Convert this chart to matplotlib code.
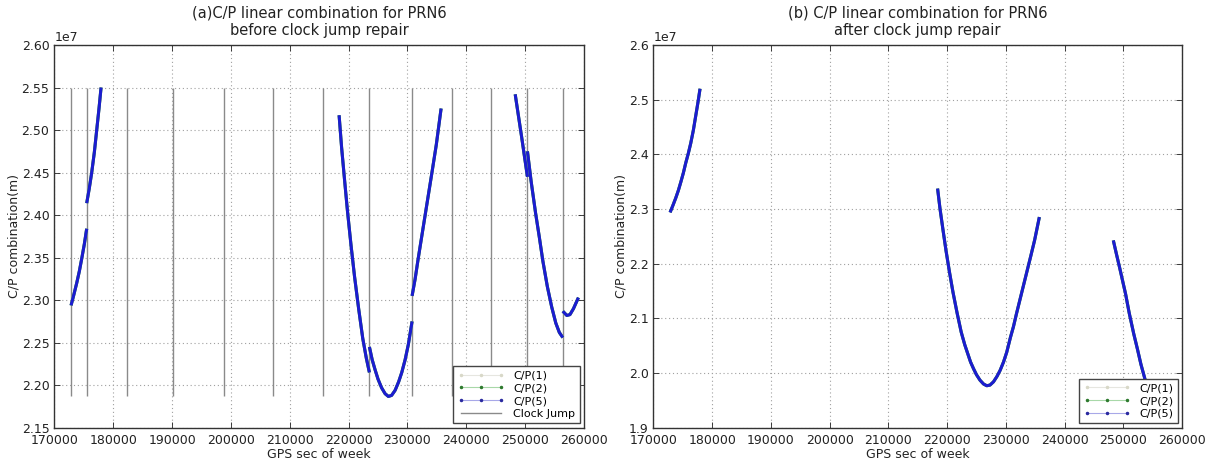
import matplotlib
matplotlib.use("Agg")
import matplotlib.pyplot as plt
from matplotlib.lines import Line2D
import numpy as np

plt.rcParams['font.family'] = ['DejaVu Sans']

# ---------------- data (GPS sec of week, C/P combination in metres) ----------------
# (a) before clock jump repair: pieces of the arcs, split at clock jumps
before_x = [
    [172840, 173300, 173800, 174250, 174660, 175100, 175500],
    [175500, 175950, 176350, 176800, 177200, 177600, 177940],
    [218380, 218800, 219300, 219800, 220400, 221000, 221700, 222400, 223000, 223530],
    [223530, 224000, 224500, 225000, 225600, 226200, 226750, 227300, 227900, 228500,
     229030, 229600, 230150, 230780],
    [230780, 231300, 231800, 232400, 233000, 233600, 234200, 234900, 235710],
    [248300, 248800, 249390, 250000, 250380],
    [250380, 251000, 251770, 252400, 253000, 253760, 254500, 255200, 255800, 256390],
    [256390, 257070, 257600, 258200, 259040],
]
before_y = [
    [2.2938e7, 2.3060e7, 2.3200e7, 2.3340e7, 2.3490e7, 2.3660e7, 2.3840e7],
    [2.4140e7, 2.4320e7, 2.4500e7, 2.4740e7, 2.5000e7, 2.5260e7, 2.5500e7],
    [2.5174e7, 2.4800e7, 2.4420e7, 2.4050e7, 2.3650e7, 2.3280e7, 2.2900e7, 2.2550e7,
     2.2320e7, 2.2150e7],
    [2.2450e7, 2.2300e7, 2.2180e7, 2.2070e7, 2.1970e7, 2.1900e7, 2.1868e7, 2.1880e7,
     2.1940e7, 2.2040e7, 2.2150e7, 2.2300e7, 2.2480e7, 2.2750e7],
    [2.3050e7, 2.3250e7, 2.3480e7, 2.3740e7, 2.4000e7, 2.4260e7, 2.4520e7, 2.4830e7, 2.5253e7],
    [2.5420e7, 2.5190e7, 2.4920e7, 2.4630e7, 2.4450e7],
    [2.4750e7, 2.4400e7, 2.4020e7, 2.3740e7, 2.3460e7, 2.3160e7, 2.2920e7, 2.2730e7,
     2.2620e7, 2.2560e7],
    [2.2870e7, 2.2820e7, 2.2830e7, 2.2900e7, 2.3030e7],
]

# epochs of detected clock jumps
clock_jumps = [172800, 175500, 182390, 190200, 198880, 207160, 215700,
               223530, 230780, 237620, 244140, 250380, 256390]

# (b) after clock jump repair: continuous arcs
after_x = [
    [172840, 173300, 173800, 174250, 174660, 175100, 175500, 175950, 176350, 176800,
     177200, 177600, 177940],
    [218380, 218800, 219300, 219800, 220400, 221000, 221700, 222400, 223000, 223530,
     224000, 224500, 225000, 225600, 226200, 226750, 227300, 227900, 228500, 229030,
     229600, 230150, 230780, 231300, 231800, 232400, 233000, 233600, 234200, 234900, 235710],
    [248300, 248800, 249390, 250000, 250380, 251000, 251770, 252400, 253000, 253760,
     254500, 255200, 255800, 256390, 257070, 257600, 258200, 259040],
]
after_y = [
    [2.2938e7, 2.3060e7, 2.3200e7, 2.3340e7, 2.3490e7, 2.3660e7, 2.3840e7, 2.4020e7,
     2.4200e7, 2.4440e7, 2.4700e7, 2.4960e7, 2.5200e7],
    [2.3374e7, 2.3000e7, 2.2620e7, 2.2250e7, 2.1850e7, 2.1480e7, 2.1100e7, 2.0750e7,
     2.0520e7, 2.0350e7, 2.0200e7, 2.0080e7, 1.9970e7, 1.9870e7, 1.9800e7, 1.9768e7,
     1.9780e7, 1.9840e7, 1.9940e7, 2.0050e7, 2.0200e7, 2.0380e7, 2.0650e7, 2.0850e7,
     2.1080e7, 2.1340e7, 2.1600e7, 2.1860e7, 2.2120e7, 2.2430e7, 2.2853e7],
    [2.2426e7, 2.2190e7, 2.1920e7, 2.1630e7, 2.1450e7, 2.1100e7, 2.0720e7, 2.0440e7,
     2.0160e7, 1.9860e7, 1.9620e7, 1.9430e7, 1.9320e7, 1.9260e7, 1.9220e7, 1.9230e7,
     1.9300e7, 1.9430e7],
]

series_names = ['C/P(1)', 'C/P(2)', 'C/P(5)']
series_colors = ['#f2f0c8', '#2e9a2e', '#1c1cd0']
legend_line_colors = ['#e6e6e0', '#a8d8a8', '#a8a8e8']
legend_marker_colors = ['#d8d8c8', '#2e7a2e', '#2a2aa0']

titles = ['(a)C/P linear combination for PRN6\nbefore clock jump repair',
          '(b) C/P linear combination for PRN6\nafter clock jump repair']
xlabel = 'GPS sec of week'
ylabel = 'C/P combination(m)'
xlim = (170000, 260000)
xticks = [170000, 180000, 190000, 200000, 210000, 220000, 230000, 240000, 250000, 260000]
ylims = [(2.15e7, 2.60e7), (1.9e7, 2.6e7)]
yticks = [[2.15e7, 2.20e7, 2.25e7, 2.30e7, 2.35e7, 2.40e7, 2.45e7, 2.50e7, 2.55e7, 2.60e7],
          [1.9e7, 2.0e7, 2.1e7, 2.2e7, 2.3e7, 2.4e7, 2.5e7, 2.6e7]]

# ---------------- figure ----------------
fig = plt.figure(figsize=(12.10, 4.63), dpi=100)
axA = fig.add_axes([0.0449, 0.0762, 0.4378, 0.8266])
axB = fig.add_axes([0.5400, 0.0762, 0.4369, 0.8266])


def style_axis(ax, idx):
    ax.set_xlim(*xlim)
    ax.set_ylim(*ylims[idx])
    ax.set_xticks(xticks)
    ax.set_yticks(yticks[idx])
    ax.ticklabel_format(axis='x', style='plain', useOffset=False)
    ax.ticklabel_format(axis='y', style='sci', scilimits=(7, 7), useOffset=False)
    ax.grid(True, color='#a0a0a0', linestyle=(0, (1, 2.5)), linewidth=0.8)
    ax.set_axisbelow(True)
    ax.tick_params(direction='in', top=True, right=True, length=4, width=0.6,
                   labelsize=9, colors='#222222')
    ax.tick_params(axis='x', pad=4.5)
    for s in ax.spines.values():
        s.set_color('#333333')
        s.set_linewidth(1.0)
    ax.yaxis.get_offset_text().set_fontsize(9)
    ax.set_title(titles[idx], fontsize=10.5, pad=7, color='#222222')
    ax.set_xlabel(xlabel, fontsize=9, labelpad=1, color='#222222')
    ax.set_ylabel(ylabel, fontsize=9, labelpad=1, color='#222222')


def legend_handles():
    hs = []
    for name, lc, mc in zip(series_names, legend_line_colors, legend_marker_colors):
        hs.append(Line2D([], [], color=lc, lw=0.8, marker='.', markersize=3,
                         markerfacecolor=mc, markeredgecolor=mc, label=name))
    return hs


# (a)
for k, name in enumerate(series_names):
    for xs, ys in zip(before_x, before_y):
        axA.plot(xs, ys, color=series_colors[k], lw=2.2, solid_capstyle='butt',
                 solid_joinstyle='round')
all_before = np.concatenate([np.asarray(v, float) for v in before_y])
axA.vlines(clock_jumps, all_before.min(), all_before.max(), colors='#8a8a8a',
           linewidth=1.0, zorder=1)
style_axis(axA, 0)
hA = legend_handles() + [Line2D([], [], color='#8a8a8a', lw=1.0, label='Clock Jump')]
legA = axA.legend(handles=hA, loc='lower right', fontsize=8, numpoints=3,
                  handlelength=4.2, fancybox=False, framealpha=1,
                  edgecolor='#444444', borderaxespad=0.4, labelspacing=0.25,
                  handletextpad=0.8, borderpad=0.4)
legA.get_frame().set_linewidth(1.0)

# (b)
for k, name in enumerate(series_names):
    for xs, ys in zip(after_x, after_y):
        axB.plot(xs, ys, color=series_colors[k], lw=2.2, solid_capstyle='butt',
                 solid_joinstyle='round')
style_axis(axB, 1)
legB = axB.legend(handles=legend_handles(), loc='lower right', fontsize=8, numpoints=3,
                  handlelength=4.2, fancybox=False, framealpha=1,
                  edgecolor='#444444', borderaxespad=0.4, labelspacing=0.25,
                  handletextpad=0.8, borderpad=0.4)
legB.get_frame().set_linewidth(1.0)
legB.set_zorder(5)

fig.savefig('out.png', dpi=100)
